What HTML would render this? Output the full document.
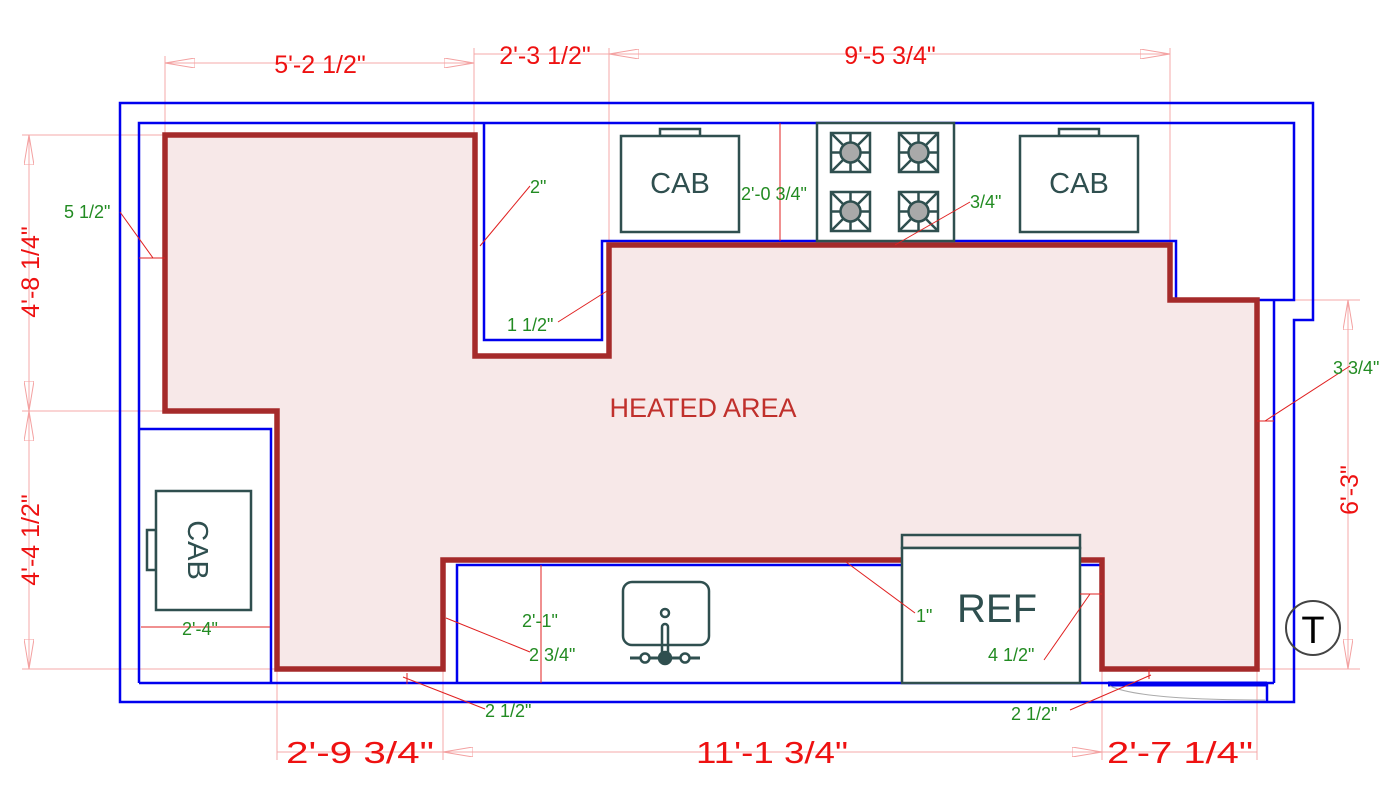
<!DOCTYPE html>
<html><head><meta charset="utf-8"><style>html,body{margin:0;padding:0;background:#fff}svg{display:block}</style></head>
<body>
<svg width="1400" height="808" viewBox="0 0 1400 808" xmlns="http://www.w3.org/2000/svg" font-family="Liberation Sans, sans-serif">
<defs>
<marker id="ar" viewBox="0 0 30 10" refX="30" refY="5" markerWidth="30" markerHeight="10" markerUnits="userSpaceOnUse" orient="auto-start-reverse"><path d="M0,0 L30,5 L0,10 Z" fill="none" stroke="#f4a0a0" stroke-width="1"/></marker>
</defs>
<path d="M165,135 H475 V356 H609 V245 H1170 V300 H1257 V669 H1102 V560 H443 V669 H277 V411 H165 Z" fill="#f7e8e8"/>
<g stroke="#f4a8a8" stroke-width="1" fill="none">
<line x1="165" y1="56" x2="165" y2="135"/>
<line x1="474" y1="48" x2="474" y2="135"/>
<line x1="609" y1="48" x2="609" y2="245"/>
<line x1="1170" y1="48" x2="1170" y2="300"/>
<line x1="22" y1="135" x2="165" y2="135"/>
<line x1="22" y1="411" x2="165" y2="411"/>
<line x1="22" y1="669" x2="277" y2="669"/>
<line x1="277" y1="669" x2="277" y2="760"/>
<line x1="443" y1="669" x2="443" y2="760"/>
<line x1="1102" y1="669" x2="1102" y2="760"/>
<line x1="1257" y1="669" x2="1257" y2="760"/>
<line x1="1257" y1="300" x2="1360" y2="300"/>
<line x1="1257" y1="669" x2="1360" y2="669"/>
<line x1="165" y1="63" x2="474" y2="63" marker-start="url(#ar)" marker-end="url(#ar)"/>
<line x1="474" y1="54" x2="609" y2="54"/>
<line x1="609" y1="54" x2="1170" y2="54" marker-start="url(#ar)" marker-end="url(#ar)"/>
<line x1="29" y1="135" x2="29" y2="411" marker-start="url(#ar)" marker-end="url(#ar)"/>
<line x1="29" y1="411" x2="29" y2="669" marker-start="url(#ar)" marker-end="url(#ar)"/>
<line x1="1348" y1="300" x2="1348" y2="669" marker-start="url(#ar)" marker-end="url(#ar)"/>
<line x1="277" y1="752" x2="443" y2="752"/>
<line x1="443" y1="752" x2="1102" y2="752" marker-start="url(#ar)" marker-end="url(#ar)"/>
<line x1="1102" y1="752" x2="1257" y2="752"/>
</g>
<g stroke="#0000ee" stroke-width="2.5" fill="none">
<path d="M120,103 H1313 V320 H1294 V702 H120 Z"/>
<path d="M139,683 V123 H1294 V300 H1176 V241 H602 V340 H484 V123"/>
<line x1="1274" y1="300" x2="1274" y2="683"/>
<line x1="139" y1="683" x2="1274" y2="683"/>
<path d="M139,429 H271 V683"/>
<path d="M457,683 V565 H1102"/>
<line x1="1267" y1="683" x2="1267" y2="702"/>
</g>
<line x1="1108" y1="684" x2="1267" y2="684" stroke="#0000ee" stroke-width="5"/>
<path d="M1110,686 Q1140,700 1265,700" stroke="#aaa" fill="none" stroke-width="1"/>
<path d="M165,135 H475 V356 H609 V245 H1170 V300 H1257 V669 H1102 V560 H443 V669 H277 V411 H165 Z" fill="none" stroke="#a52a2a" stroke-width="5.5" stroke-linejoin="miter"/>
<g stroke="#2f4f4f" stroke-width="2.5" fill="#fff">
<rect x="660" y="129" width="40" height="7"/>
<rect x="621" y="136" width="118" height="96"/>
<rect x="1059" y="129" width="40" height="7"/>
<rect x="1020" y="136" width="118" height="96"/>
<rect x="147" y="530" width="9" height="40"/>
<rect x="156" y="491" width="95" height="119"/>
<rect x="817" y="123" width="137" height="118"/>
<rect x="902" y="535" width="178" height="13" fill="none"/>
<rect x="902" y="548" width="178" height="135" fill="#fff"/>
</g>
<g stroke="#2f4f4f" stroke-width="2.5" fill="none">
<g id="b"><rect x="831" y="133" width="39" height="39"/><path d="M831,133 L870,172 M870,133 L831,172 M850.5,133 V172 M831,152.5 H870"/><circle cx="850.5" cy="152.5" r="10" fill="#a9a9a9"/></g>
<use href="#b" x="68"/><use href="#b" y="59"/><use href="#b" x="68" y="59"/>
<rect x="623" y="582" width="86" height="63" rx="9"/>
<circle cx="665" cy="613" r="4"/>
<rect x="662" y="624" width="6" height="34" rx="3"/>
<line x1="630" y1="658" x2="700" y2="658" stroke-width="3"/>
<circle cx="665" cy="658" r="6" fill="#2f4f4f"/>
<circle cx="645" cy="658" r="4.5" fill="#fff"/>
<circle cx="685" cy="658" r="4.5" fill="#fff"/>
</g>
<circle cx="1313" cy="628" r="27" fill="none" stroke="#444" stroke-width="2"/>
<text x="1313" y="643" font-size="38" text-anchor="middle" fill="#000">T</text>
<g fill="#2f4f4f" text-anchor="middle">
<text x="680" y="193" font-size="29">CAB</text>
<text x="1079" y="193" font-size="29">CAB</text>
<text x="997" y="622" font-size="40">REF</text>
<text transform="translate(188,550) rotate(90)" font-size="29" text-anchor="middle">CAB</text>
</g>
<text x="703" y="417" font-size="27" fill="#c0302c" text-anchor="middle">HEATED AREA</text>
<g fill="#ee1111" font-size="25" text-anchor="middle">
<text x="320" y="73">5'-2 1/2"</text>
<text x="545" y="64">2'-3 1/2"</text>
<text x="890" y="64">9'-5 3/4"</text>
<text transform="translate(39,272) rotate(-90)">4'-8 1/4"</text>
<text transform="translate(39,540) rotate(-90)">4'-4 1/2"</text>
<text transform="translate(1358,490) rotate(-90)">6'-3"</text>
</g>
<g fill="#ee1111" font-size="31" text-anchor="middle">
<text x="360" y="763" textLength="148" lengthAdjust="spacingAndGlyphs">2'-9 3/4"</text>
<text x="772" y="763" textLength="152" lengthAdjust="spacingAndGlyphs">11'-1 3/4"</text>
<text x="1180" y="763" textLength="146" lengthAdjust="spacingAndGlyphs">2'-7 1/4"</text>
</g>
<g stroke="#e02020" stroke-width="1" fill="none">
<path d="M120,212 L153,258 M139,258 H165"/>
<path d="M530,186 L480,246"/>
<path d="M558,322 L607,291"/>
<line x1="780" y1="123" x2="780" y2="241"/>
<path d="M970,202 L895,245"/>
<path d="M1350,366 L1265,421 M1257,421 H1274"/>
<path d="M141,627 H270"/>
<line x1="541" y1="565" x2="541" y2="683"/>
<path d="M530,652 L446,618"/>
<path d="M485,709 L403,677 M407,673 V684"/>
<path d="M915,613 L846,562"/>
<path d="M1044,660 L1090,594 M1080,594 H1102"/>
<path d="M1070,710 L1151,675 M1149,669 V679"/>
</g>
<g fill="#228b22" font-size="18">
<text x="64" y="218">5 1/2"</text>
<text x="530" y="193">2"</text>
<text x="507" y="331">1 1/2"</text>
<text x="741" y="200">2'-0 3/4"</text>
<text x="970" y="208">3/4"</text>
<text x="1333" y="374">3 3/4"</text>
<text x="182" y="635">2'-4"</text>
<text x="522" y="627">2'-1"</text>
<text x="529" y="661">2 3/4"</text>
<text x="485" y="717">2 1/2"</text>
<text x="916" y="622">1"</text>
<text x="988" y="661">4 1/2"</text>
<text x="1011" y="720">2 1/2"</text>
</g>
</svg>
</body></html>
